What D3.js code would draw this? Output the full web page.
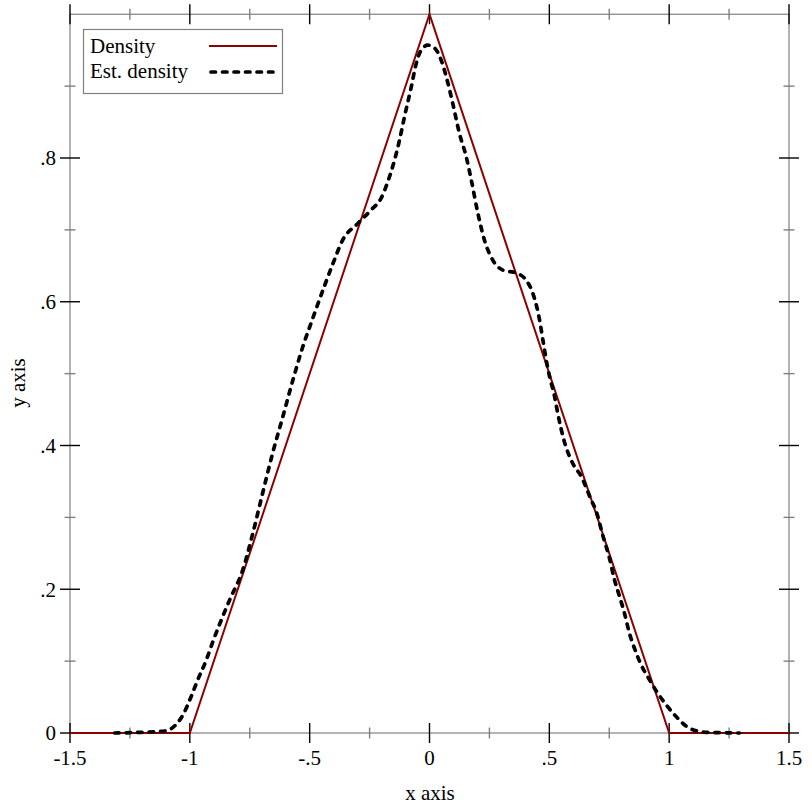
<!DOCTYPE html>
<html><head><meta charset="utf-8">
<script src="https://cdn.jsdelivr.net/npm/d3@7"></script>
<style>body{margin:0;background:#fff}svg{display:block}text{font-family:"Liberation Serif","Times New Roman",serif}</style>
</head><body>
<svg id="c" width="812" height="812"></svg>
<script>
// True triangular density
const densX = [-1.5, -1, 0, 1, 1.5];
const densY = [0, 0, 1, 0, 0];
// Estimated density
const estX = [-1.314,-1.2,-1.099,-1.064,-1.029,-0.994,-0.967,-0.932,-0.904,-0.869,-0.834,-0.779,-0.737,-0.696,-0.654,-0.612,-0.570,-0.529,-0.487,-0.436,-0.403,-0.362,-0.299,-0.243,-0.202,-0.174,-0.146,-0.125,-0.104,-0.076,-0.055,-0.035,-0.007,0.021,0.049,0.070,0.097,0.125,0.153,0.174,0.202,0.229,0.264,0.306,0.362,0.403,0.431,0.459,0.473,0.487,0.501,0.522,0.535,0.563,0.598,0.633,0.675,0.696,0.723,0.751,0.772,0.793,0.814,0.834,0.855,0.883,0.918,0.953,0.988,1.029,1.085,1.154,1.293];
const estY = [0,0.001,0.003,0.0097,0.025,0.051,0.074,0.101,0.127,0.157,0.185,0.227,0.278,0.334,0.390,0.440,0.491,0.537,0.577,0.624,0.653,0.686,0.709,0.728,0.744,0.767,0.797,0.825,0.858,0.899,0.932,0.950,0.957,0.953,0.936,0.913,0.876,0.834,0.802,0.770,0.723,0.686,0.658,0.644,0.640,0.630,0.612,0.575,0.547,0.519,0.496,0.468,0.445,0.405,0.375,0.357,0.324,0.308,0.275,0.243,0.213,0.190,0.166,0.139,0.118,0.095,0.074,0.055,0.039,0.023,0.0065,0.001,0];
const xMajor = [-1.5,-1,-0.5,0,0.5,1,1.5];
const xMajorLabels = ["-1.5","-1","-.5","0",".5","1","1.5"];
const xMinor = [-1.25,-0.75,-0.25,0.25,0.75,1.25];
const yMajor = [0,0.2,0.4,0.6,0.8];
const yMajorLabels = ["0",".2",".4",".6",".8"];
const yMinor = [0.1,0.3,0.5,0.7,0.9];
const legendLabels = ["Density","Est. density"];

const svg = d3.select("#c");
const L=70, R=789, T=14.25, B=733;
const x = d3.scaleLinear().domain([-1.5,1.5]).range([L,R]);
const y = d3.scaleLinear().domain([0,1]).range([B,T]);
const gray="#808080";
const fs=21;

// frame
svg.append("rect").attr("x",L).attr("y",y(1)).attr("width",R-L).attr("height",B-y(1))
  .attr("fill","none").attr("stroke",gray).attr("stroke-width",1.2);

function ticks(vals, len, color, horiz){
  vals.forEach(v=>{
    if(horiz){
      [B, y(1)].forEach(yy=>svg.append("line").attr("x1",x(v)).attr("x2",x(v)).attr("y1",yy-len).attr("y2",yy+len).attr("stroke",color).attr("stroke-width",1.4));
    } else {
      [L, R].forEach(xx=>svg.append("line").attr("y1",y(v)).attr("y2",y(v)).attr("x1",xx-len).attr("x2",xx+len).attr("stroke",color).attr("stroke-width",1.4));
    }
  });
}
ticks(xMinor,5.5,gray,true);
ticks(yMinor,5.5,gray,false);
ticks(xMajor,10,"#000",true);
ticks(yMajor,10,"#000",false);

// labels
xMajor.forEach((v,i)=>svg.append("text").attr("x",x(v)).attr("y",765).attr("text-anchor","middle").attr("font-size",fs).text(xMajorLabels[i]));
yMajor.forEach((v,i)=>svg.append("text").attr("x",56).attr("y",y(v)).attr("dy","0.35em").attr("text-anchor","end").attr("font-size",fs).text(yMajorLabels[i]));
svg.append("text").attr("x",430).attr("y",800).attr("text-anchor","middle").attr("font-size",fs).text("x axis");
svg.append("text").attr("transform","translate(25,383) rotate(-90)").attr("text-anchor","middle").attr("font-size",fs).text("y axis");

// lines
const line = d3.line().x(d=>x(d[0])).y(d=>y(d[1]));
svg.append("path").datum(densX.map((v,i)=>[v,densY[i]])).attr("d",line)
  .attr("fill","none").attr("stroke","#8b0000").attr("stroke-width",2);
const line2 = d3.line().x(d=>x(d[0])).y(d=>y(d[1])).curve(d3.curveMonotoneX);
svg.append("path").datum(estX.map((v,i)=>[v,estY[i]])).attr("d",line2)
  .attr("fill","none").attr("stroke","#000").attr("stroke-width",3.7)
  .attr("stroke-dasharray","4.5,7").attr("stroke-linecap","round");

// legend
svg.append("rect").attr("x",83.5).attr("y",29.5).attr("width",199).attr("height",64)
  .attr("fill","#fff").attr("stroke",gray).attr("stroke-width",1.2);
svg.append("text").attr("x",90).attr("y",53).attr("font-size",fs).text(legendLabels[0]);
svg.append("text").attr("x",90).attr("y",78).attr("font-size",fs).text(legendLabels[1]);
svg.append("line").attr("x1",209).attr("x2",277).attr("y1",46).attr("y2",46).attr("stroke","#8b0000").attr("stroke-width",2);
svg.append("line").attr("x1",211).attr("x2",277).attr("y1",72).attr("y2",72).attr("stroke","#000").attr("stroke-width",3.7)
  .attr("stroke-dasharray","4.5,7").attr("stroke-linecap","round");
</script>
</body></html>
